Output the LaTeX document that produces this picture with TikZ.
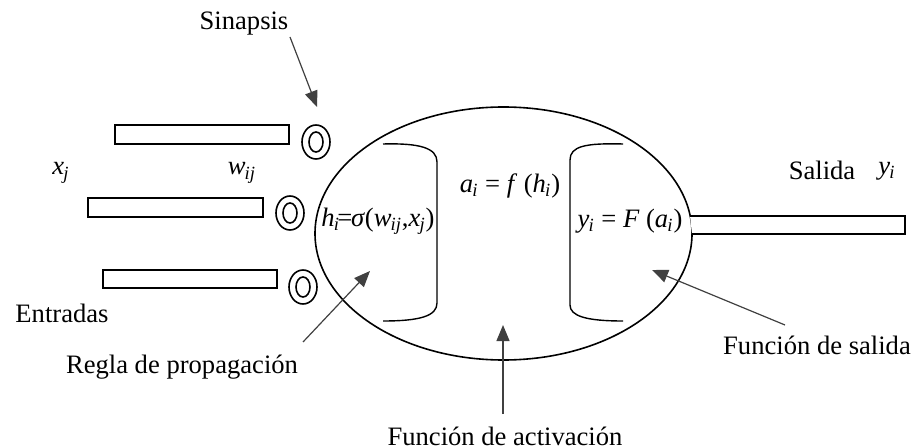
\documentclass[tikz,border=0pt]{standalone}
\usepackage{fontspec}
\setmainfont{Liberation Serif}
\usetikzlibrary{shapes.geometric,arrows.meta,positioning,calc}

\newcommand{\vsub}[2]{\textit{#1}\textsubscript{\kern-0.05em\textit{#2}}}

\tikzset{
  bar/.style={draw, line width=0.7pt, fill=white, inner sep=0pt},
  syn/.style={line width=0.8pt},
  lbl/.style={inner sep=1pt, font=\fontsize{13.3}{15}\selectfont},
  frm/.style={inner sep=0pt, font=\fontsize{13.3}{15}\selectfont},
  pointer/.style={draw=black!75, line width=0.6pt, -{Triangle[length=8pt,width=6.5pt]}},
  clip/.style={line width=0.7pt}
}

\begin{document}
\begin{tikzpicture}[x=0.5pt, y=-0.5pt]
\useasboundingbox (0,0) rectangle (913,448);

% cuerpo de la neurona
\node[draw, ellipse, line width=0.8pt, minimum width=188.5pt, minimum height=126.5pt, inner sep=0pt] (soma) at (503.5,233.5) {};

% entradas
\node[bar, minimum width=87pt, minimum height=9.5pt] (in1) at (202,134.5) {};
\node[bar, minimum width=87.5pt, minimum height=9.5pt] (in2) at (175.5,207.5) {};
\node[bar, minimum width=87pt, minimum height=9pt] (in3) at (190,279) {};

% sinapsis
\foreach \n/\px/\py in {s1/316/142, s2/290/213, s3/303/287}{
  \coordinate (\n) at (\px,\py);
  \draw[syn] (\n) ellipse [x radius=7pt, y radius=8.5pt];
  \draw[syn] (\n) ellipse [x radius=3.5pt, y radius=5pt];
}

% salida
\draw[bar] (690,216) -- (905,216) -- (905,234) -- (692,234);

% corchetes
\draw[clip] (383,144) .. controls (420,143) and (437,148) .. (437,162) -- (437,303)
  .. controls (437,316) and (420,321) .. (383,321);
\draw[clip] (623,144) .. controls (586,143) and (570,146) .. (570,160) -- (570,305)
  .. controls (570,316) and (586,321) .. (623,321);

% textos
\node[lbl] (sinapsis) at (244,24) {Sinapsis};
\node[lbl] (xj) at (61,173) {\vsub{x}{j}};
\node[lbl] (wij) at (242,173) {\vsub{w}{ij}};
\node[lbl] (entradas) at (62,313) {Entradas};
\node[lbl] (regla) at (182,367) {Regla de propagación};
\node[lbl] (salida) at (822,170) {Salida};
\node[lbl] (yi) at (887,171) {\vsub{y}{i}};
\node[lbl] (fsalida) at (817,345) {Función de salida};
\node[lbl] (factiv) at (505,436) {Función de activación};

\node[frm] (hform) at (378,221) {\vsub{h}{i}\kern-0.1em=\kern-0.05em\textit{σ}(\vsub{w}{ij},\vsub{x}{j})};
\node[frm] (aform) at (510,186) {\vsub{a}{i} = \textit{f} (\vsub{h}{i})};
\node[frm] (yform) at (630,221) {\vsub{y}{i} = \textit{F} (\vsub{a}{i})};

% flechas
\coordinate (tipsin) at (317,107);
\coordinate (tipreg) at (370,271);
\coordinate (tipact) at (503,325);
\coordinate (tipsal) at (652,270);
\coordinate (fromsin) at (290,37);
\coordinate (fromreg) at (303,342);
\coordinate (fromact) at (503,414);
\coordinate (fromsal) at (785,325);

\draw[pointer] (fromsin) -- (tipsin);
\draw[pointer] (fromreg) -- (tipreg);
\draw[pointer] (fromact) -- (tipact);
\draw[pointer] (fromsal) -- (tipsal);
\end{tikzpicture}
\end{document}
